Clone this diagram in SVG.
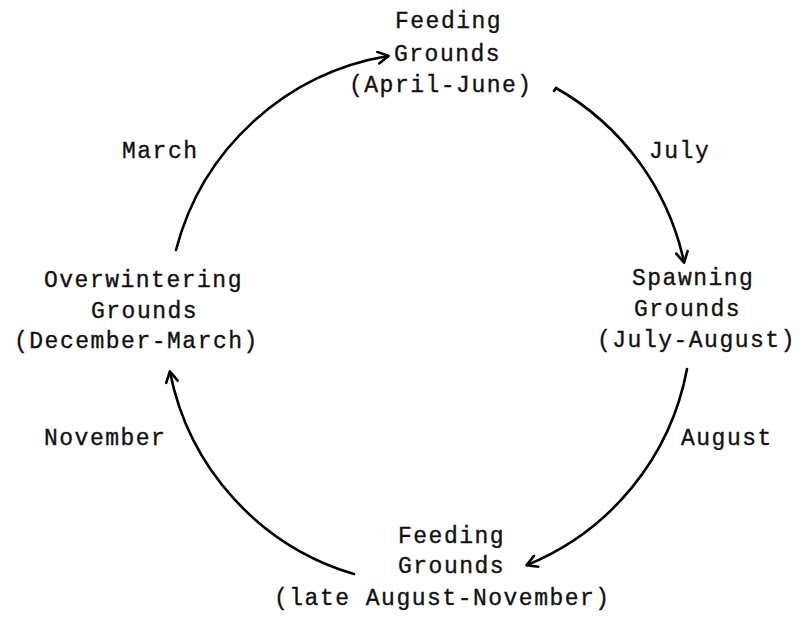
<svg xmlns="http://www.w3.org/2000/svg" width="809" height="619" viewBox="0 0 809 619">
  <style>
    text { font-family: "Liberation Mono", "Courier New", monospace; font-size: 23px; letter-spacing: 1.5px; fill: #111; stroke: #111; stroke-width: 0.35px; }
    .arc { fill: none; stroke: #000; stroke-width: 2.6; stroke-linecap: round; marker-end: url(#arrow); }
  </style>
  <defs>
    <marker id="arrow" viewBox="0 0 12 12" refX="10" refY="6" markerWidth="14" markerHeight="14" markerUnits="userSpaceOnUse" orient="auto">
      <path d="M1.5,1 L10.5,6 L1.5,11" fill="none" stroke="#000" stroke-width="2.2" stroke-linecap="round" stroke-linejoin="round"/>
    </marker>
  </defs>
  <rect width="809" height="619" fill="#fff"/>

  <g id="connectors">
    <path class="arc" d="M176,250 A264,264 0 0 1 388,56"/>
    <path class="arc" d="M554,91 L556,88 A264,264 0 0 1 684,262"/>
    <path class="arc" d="M687,369 A264,264 0 0 1 527,565"/>
    <path class="arc" d="M354,574 A264,264 0 0 1 170,372"/>
  </g>

  <g id="node-feeding-april">
    <text x="395" y="28">Feeding</text>
    <text x="394" y="61">Grounds</text>
    <text x="349" y="92">(April-June)</text>
  </g>
  <g id="node-spawning">
    <text x="632" y="285">Spawning</text>
    <text x="634" y="316">Grounds</text>
    <text x="597" y="347">(July-August)</text>
  </g>
  <g id="node-feeding-late">
    <text x="398" y="543">Feeding</text>
    <text x="398" y="573">Grounds</text>
    <text x="274" y="605">(late August-November)</text>
  </g>
  <g id="node-overwintering">
    <text x="44" y="287">Overwintering</text>
    <text x="91" y="318">Grounds</text>
    <text x="14" y="348">(December-March)</text>
  </g>

  <g id="labels">
    <text x="122" y="158">March</text>
    <text x="649" y="158">July</text>
    <text x="681" y="445">August</text>
    <text x="44" y="445">November</text>
  </g>
</svg>
